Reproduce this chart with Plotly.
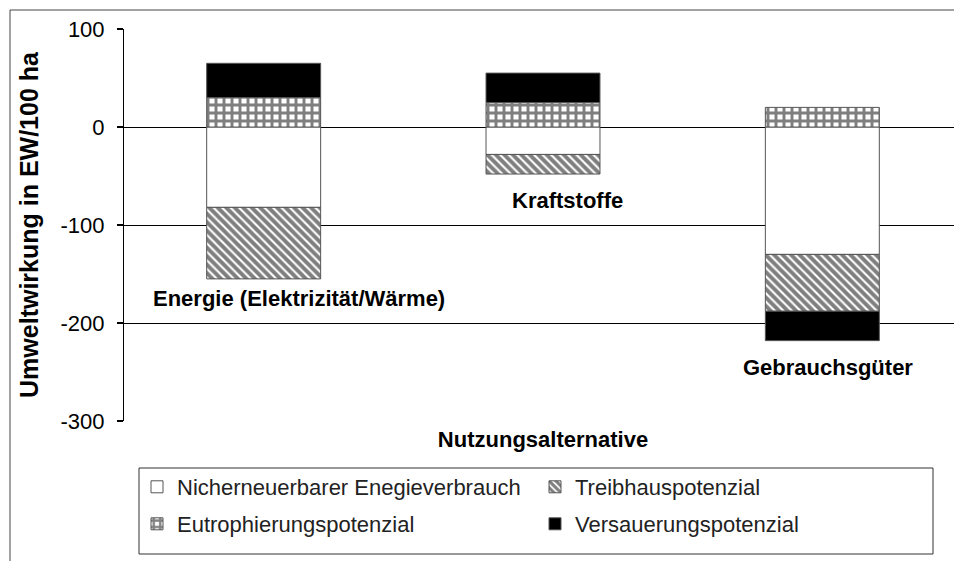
import plotly.graph_objects as go

categories = ["Energie (Elektrizität/Wärme)", "Kraftstoffe", "Gebrauchsgüter"]
energieverbrauch = [-82, -28, -130]
treibhaus = [-73, -20, -58]
eutrophierung = [30, 25, 20]
versauerung = [35, 30, -30]
y_ticks = [-300, -200, -100, 0, 100]

FONT = "Liberation Sans, Arial, sans-serif"
outline = dict(color="#555555", width=1)

fig = go.Figure()
fig.add_bar(x=categories, y=energieverbrauch, name="Nicherneuerbarer Enegieverbrauch",
            marker=dict(color="white", line=outline), legend="legend")
fig.add_bar(x=categories, y=treibhaus, name="Treibhauspotenzial",
            marker=dict(color="white", line=outline,
                        pattern=dict(shape="\\", size=6, solidity=0.65, fgcolor="black", bgcolor="white")),
            legend="legend")
fig.add_bar(x=categories, y=eutrophierung, name="Eutrophierungspotenzial",
            marker=dict(color="white", line=outline,
                        pattern=dict(shape="+", size=8, solidity=0.6, fgcolor="black", bgcolor="white")),
            legend="legend2")
fig.add_bar(x=categories, y=versauerung, name="Versauerungspotenzial",
            marker=dict(color="black", line=outline), legend="legend2")

# page has an 8px body margin: figure pixel = page pixel - 8
OFF = 8
W, H = 962 - OFF, 561 - OFF
L, T = 124 - OFF, 29 - OFF
R = 0
B = H - (421 - OFF)
pw, ph = W - L - R, H - T - B


def px(xp):
    return (xp - OFF - L) / pw


def py(yp):
    return (H - B - (yp - OFF)) / ph


legend_common = dict(orientation="h", xanchor="left", yanchor="middle",
                     font=dict(family=FONT, size=22, color="#222222"),
                     bgcolor="rgba(0,0,0,0)", borderwidth=0,
                     entrywidth=353, entrywidthmode="pixels", traceorder="normal")

fig.update_layout(
    width=W, height=H,
    margin=dict(l=L, r=R, t=T, b=B, pad=0),
    plot_bgcolor="white", paper_bgcolor="white",
    barmode="relative", bargap=0.592,
    font=dict(family=FONT, color="black"),
    xaxis=dict(showticklabels=False, ticks="", showgrid=False, showline=False, zeroline=False,
               title=dict(text="<b>Nutzungsalternative</b>", font=dict(family=FONT, size=22, color="black"),
                          standoff=10)),
    yaxis=dict(range=[-300, 100], tickvals=y_ticks, ticktext=[str(v) for v in y_ticks],
               showgrid=True, gridcolor="black", gridwidth=1,
               zeroline=True, zerolinecolor="black", zerolinewidth=1,
               showline=True, linecolor="black", linewidth=1,
               ticks="outside", ticklen=6, tickcolor="black", tickwidth=2,
               ticklabelstandoff=8,
               tickfont=dict(family=FONT, size=22, color="black"),
               title=dict(text="<b>Umweltwirkung in EW/100 ha</b>",
                          font=dict(family=FONT, size=25, color="black"), standoff=14)),
    legend=dict(x=px(137), y=py(487), **legend_common),
    legend2=dict(x=px(137), y=py(524), **legend_common),
    showlegend=True,
)

# Outer frame lines and legend box
fig.add_shape(type="line", xref="paper", yref="paper", x0=px(10), x1=1.0, y0=py(10), y1=py(10),
              line=dict(color="#444444", width=1))
fig.add_shape(type="line", xref="paper", yref="paper", x0=px(10), x1=px(10), y0=py(10), y1=py(561),
              line=dict(color="#444444", width=1))
fig.add_shape(type="rect", xref="paper", yref="paper", x0=px(139), x1=px(933), y0=py(468), y1=py(554),
              line=dict(color="#333333", width=1), fillcolor="rgba(0,0,0,0)")

label_font = dict(family=FONT, size=22, color="black")
fig.add_annotation(x=categories[0], y=-175, text="<b>Energie (Elektrizität/Wärme)</b>", showarrow=False,
                   xshift=35, font=label_font)
fig.add_annotation(x=categories[1], y=-75, text="<b>Kraftstoffe</b>", showarrow=False,
                   xshift=24, font=label_font)
fig.add_annotation(x=categories[2], y=-245, text="<b>Gebrauchsgüter</b>", showarrow=False,
                   xshift=6, font=label_font)

fig.write_html("out.html")
